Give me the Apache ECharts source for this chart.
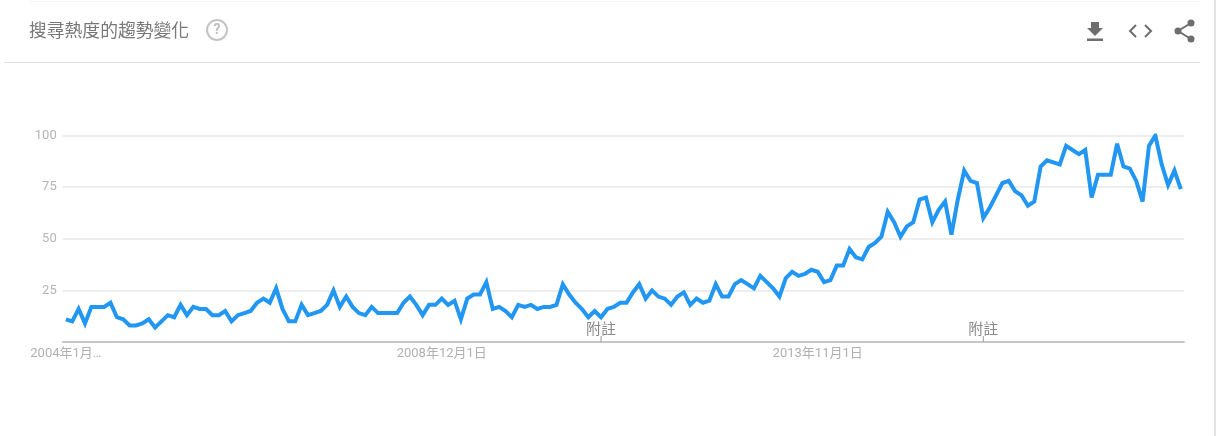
<!DOCTYPE html>
<html><head><meta charset="utf-8">
<style>html,body{margin:0;padding:0;background:#fff}#c{width:1216px;height:436px}</style>
<script src="https://cdn.jsdelivr.net/npm/echarts@6/dist/echarts.min.js"></script>
</head><body><div id="c"></div>
<script>
const titleText = '搜尋熱度的趨勢變化';
const values = [
11,10,16,9,17,17,17,19,12,11,8,8,9,11,7,10,13,12,18,13,
17,16,16,13,13,15,10,13,14,15,19,21,19,26,16,10,10,18,13,14,
15,18,25,17,22,17,14,13,17,14,14,14,14,19,22,18,13,18,18,21,
18,20,11,21,23,23,29,16,17,15,12,18,17,18,16,17,17,18,28,23,
19,16,12,15,12,16,17,19,19,24,28,21,25,22,21,18,22,24,18,21,
19,20,28,22,22,28,30,28,26,32,29,26,22,31,34,32,33,35,34,29,
30,37,37,45,41,40,46,48,51,63,58,51,56,58,69,70,58,64,68,52,
69,83,78,77,60,65,71,77,78,73,71,66,68,85,88,87,86,95,93,91,
93,70,81,81,81,96,85,84,78,68,95,100,86,76,83,74
];
const startYear = 2004;
const categories = values.map((_, i) => `${startYear + Math.floor(i / 12)}年${i % 12 + 1}月1日`);
const tickLabels = { '2004年1月1日': '2004年1月…', '2008年12月1日': '2008年12月1日', '2013年11月1日': '2013年11月1日' };
const yTicks = [0, 25, 50, 75, 100];
const noteMonths = ['2011年1月1日', '2016年1月1日'];
const noteText = '附註';

const FONT = 'Roboto, "Noto Sans CJK TC", sans-serif';
const CJK = '"Noto Sans CJK TC", sans-serif';
const chart = echarts.init(document.getElementById('c'), null, { renderer: 'canvas' });
chart.setOption({
  animation: false,
  backgroundColor: '#fff',
  grid: { left: 62.7, right: 32, top: 135.5, bottom: 94 },
  xAxis: {
    type: 'category', data: categories, boundaryGap: true,
    axisLine: { lineStyle: { color: '#c8c8c8', width: 2 } },
    axisTick: { show: false },
    splitLine: { show: false },
    axisLabel: {
      interval: (i, v) => v in tickLabels,
      formatter: v => tickLabels[v] || '',
      color: '#b0b0b0', fontSize: 13, fontFamily: FONT, margin: 5, lineHeight: 14, hideOverlap: false
    }
  },
  yAxis: {
    type: 'value', min: 0, max: 100, interval: 25,
    axisLine: { show: false }, axisTick: { show: false },
    splitLine: { lineStyle: { color: '#e8e8e8', width: 1.5 } },
    axisLabel: {
      color: '#b5b5b5', fontSize: 13, fontFamily: FONT, margin: 6,
      formatter: v => yTicks.includes(v) && v > 0 ? String(v) : ''
    }
  },
  series: [{
    type: 'line', data: values, showSymbol: false, smooth: false, silent: true,
    lineStyle: { color: '#2196f3', width: 4, join: 'miter', miterLimit: 4 },
    itemStyle: { color: '#2196f3' },
    markPoint: {
      silent: true, animation: false,
      symbol: 'rect', symbolSize: [1, 6], symbolOffset: [0, -3],
      itemStyle: { color: '#9a9a9a' },
      label: { show: true, formatter: noteText, position: 'top', distance: 0, color: '#8a8a8a', fontSize: 15, fontFamily: CJK },
      data: noteMonths.map(m => ({ coord: [m, 0] }))
    }
  }],
  graphic: [
    { type: 'rect', shape: { x: 4, y: 62, width: 1196, height: 1 }, style: { fill: '#e2e2e2' }, silent: true },
    { type: 'rect', shape: { x: 30, y: 1, width: 1170, height: 1 }, style: { fill: '#f5f5f5' }, silent: true },
    { type: 'rect', shape: { x: 1214, y: 0, width: 2, height: 436 }, style: { fill: '#e4e4e4' }, silent: true },
    { type: 'text', x: 29, y: 21, style: { text: titleText, fill: '#787878', fontSize: 17.8, fontFamily: CJK, textVerticalAlign: 'top' }, silent: true },
    { type: 'circle', shape: { cx: 217, cy: 30, r: 10 }, style: { fill: 'none', stroke: '#c4c4c4', lineWidth: 2 }, silent: true },
    { type: 'text', x: 217, y: 30, style: { text: '?', fill: '#bdbdbd', fontSize: 14, fontWeight: 'bold', fontFamily: FONT, textAlign: 'center', textVerticalAlign: 'middle' }, silent: true },
    // download icon
    { type: 'polygon', shape: { points: [[1091, 22], [1099, 22], [1099, 28], [1103, 28], [1095, 36], [1087, 28], [1091, 28]] }, style: { fill: '#6e6e6e' }, silent: true },
    { type: 'rect', shape: { x: 1087, y: 38.5, width: 16, height: 2.5 }, style: { fill: '#6e6e6e' }, silent: true },
    // code icon
    { type: 'polyline', shape: { points: [[1136, 25], [1130, 31], [1136, 37]] }, style: { fill: 'none', stroke: '#6e6e6e', lineWidth: 2 }, silent: true },
    { type: 'polyline', shape: { points: [[1145, 25], [1151, 31], [1145, 37]] }, style: { fill: 'none', stroke: '#6e6e6e', lineWidth: 2 }, silent: true },
    // share icon
    { type: 'polyline', shape: { points: [[1191, 23], [1178, 31], [1191, 39]] }, style: { fill: 'none', stroke: '#6e6e6e', lineWidth: 2 }, silent: true },
    { type: 'circle', shape: { cx: 1191, cy: 23, r: 3.5 }, style: { fill: '#6e6e6e' }, silent: true },
    { type: 'circle', shape: { cx: 1178, cy: 31, r: 3.5 }, style: { fill: '#6e6e6e' }, silent: true },
    { type: 'circle', shape: { cx: 1191, cy: 39, r: 3.5 }, style: { fill: '#6e6e6e' }, silent: true }
  ]
});
</script></body></html>
